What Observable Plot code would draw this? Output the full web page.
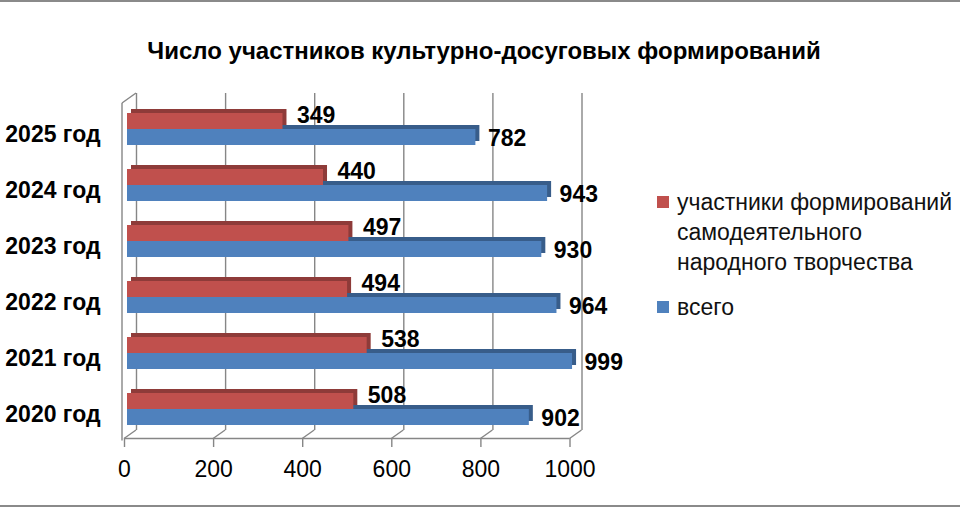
<!DOCTYPE html>
<html>
<head>
<meta charset="utf-8">
<script src="https://cdn.jsdelivr.net/npm/d3@7"></script>
<script src="https://cdn.jsdelivr.net/npm/@observablehq/plot@0.6"></script>
<style>
  html, body { margin: 0; padding: 0; background: #fff; }
  #wrap { position: relative; width: 960px; height: 510px; overflow: hidden; font-family: "Liberation Sans", Arial, sans-serif; }
  #topline { position: absolute; left: 0; top: 0; width: 960px; height: 2px; background: #8a8a8a; }
  #botline { position: absolute; left: 0; top: 505px; width: 960px; height: 2px; background: #8a8a8a; }
  #title { position: absolute; left: 0; width: 968px; top: 37px; text-align: center; font-weight: bold; font-size: 24px; color: #000; white-space: nowrap; }
  #chart { position: absolute; left: 0; top: 0; }
  .leg { position: absolute; left: 657px; font-size: 23px; color: #111; line-height: 30px; }
  .sw { position: absolute; left: 0; width: 12px; height: 12px; }
  .lt { position: absolute; left: 20px; white-space: nowrap; }
</style>
</head>
<body>
<div id="wrap">
  <div id="topline"></div>
  <div id="botline"></div>
  <div id="chart"></div>
  <div id="title"></div>
  <div id="legend"></div>
</div>
<script>
const years = ["2025 год", "2024 год", "2023 год", "2022 год", "2021 год", "2020 год"];
const participants = [349, 440, 497, 494, 538, 508];
const totals = [782, 943, 930, 964, 999, 902];
const xTicks = [0, 200, 400, 600, 800, 1000];
const seriesNames = ["участники формирований самодеятельного народного творчества", "всего"];
const legendLines = [["участники формирований", "самодеятельного", "народного творчества"], ["всего"]];
const titleText = "Число участников культурно-досуговых формирований";

const redFront = "#C0504D", redDepth = "#8E3B39";
const blueFront = "#4F81BD", blueDepth = "#385D8A";

const red = years.map((y, i) => ({year: y, value: participants[i]}));
const blue = years.map((y, i) => ({year: y, value: totals[i]}));

const chart = Plot.plot({
  width: 960,
  height: 510,
  marginLeft: 127,
  marginRight: 387.5,
  marginTop: 100,
  marginBottom: 73,
  style: {fontFamily: "Liberation Sans, Arial, sans-serif", background: "transparent", overflow: "visible"},
  x: {domain: [0, 1000], label: null},
  y: {domain: years, paddingInner: 0.43, paddingOuter: 0.215, label: null},
  marks: [
    // back-wall gridlines
    Plot.ruleX(xTicks, {dx: 9, dy: -7, stroke: "#868686", strokeWidth: 1.4}),
    // bottom axis (front edge of floor)
    Plot.axisX({ticks: xTicks, tickSize: 9, tickPadding: 13, dx: -3, dy: 1, fontSize: 23, fill: "#000", stroke: "#868686", strokeWidth: 1.4, tickFormat: d => String(d), label: null}),
    // blue bars (всего)
    Plot.barX(blue, {x: "value", y: "year", insetTop: 16, dx: 4, dy: -4, fill: blueDepth}),
    Plot.barX(blue, {x: "value", y: "year", insetTop: 16, fill: blueFront}),
    // red bars (участники)
    Plot.barX(red, {x: "value", y: "year", insetBottom: 16, dx: 4, dy: -4, fill: redDepth}),
    Plot.barX(red, {x: "value", y: "year", insetBottom: 16, fill: redFront}),
    // value labels
    Plot.text(red, {x: "value", y: "year", text: d => String(d.value), textAnchor: "start", dx: 14, dy: -14, fontSize: 23, fontWeight: "bold", fill: "#000"}),
    Plot.text(blue, {x: "value", y: "year", text: d => String(d.value), textAnchor: "start", dx: 12, dy: 9, fontSize: 23, fontWeight: "bold", fill: "#000"}),
    // category axis
    Plot.axisY({tickSize: 0, tickPadding: 27, dy: 5, fontSize: 23, fontWeight: "bold", fill: "#000", label: null})
  ]
});
document.getElementById("chart").appendChild(chart);

// 3D walls / floor drawn with the plot's x scale
const xs = chart.scale("x");
const svg = d3.select(chart);
const g = svg.insert("g", ":first-child").attr("stroke", "#868686").attr("stroke-width", 1.4).attr("fill", "none");
const backBottom = 430, frontY = 438.5, backTop = 93;
xTicks.forEach(v => {
  g.append("line").attr("x1", xs.apply(v) + 9).attr("y1", backBottom).attr("x2", xs.apply(v) - 3).attr("y2", frontY);
});
// left wall
g.append("line").attr("x1", xs.apply(0) - 5).attr("y1", backTop + 10).attr("x2", xs.apply(0) - 5).attr("y2", frontY + 2);
g.append("line").attr("x1", xs.apply(0) - 5).attr("y1", backTop + 10).attr("x2", xs.apply(0) + 9).attr("y2", backTop);
// floor front edge
g.append("line").attr("x1", xs.apply(0) - 3).attr("y1", frontY).attr("x2", xs.apply(1000) - 3).attr("y2", frontY);

// title
document.getElementById("title").textContent = titleText;

// legend
const legend = document.getElementById("legend");
const legTops = [187, 292];
[redFront, blueFront].forEach((c, i) => {
  const div = document.createElement("div");
  div.className = "leg";
  div.style.top = legTops[i] + "px";
  div.title = seriesNames[i];
  const sw = document.createElement("div");
  sw.className = "sw";
  sw.style.background = c;
  sw.style.top = "9px";
  div.appendChild(sw);
  legendLines[i].forEach((t, j) => {
    const s = document.createElement("div");
    s.className = "lt";
    s.style.top = (j * 30) + "px";
    s.textContent = t;
    div.appendChild(s);
  });
  legend.appendChild(div);
});
</script>
</body>
</html>
